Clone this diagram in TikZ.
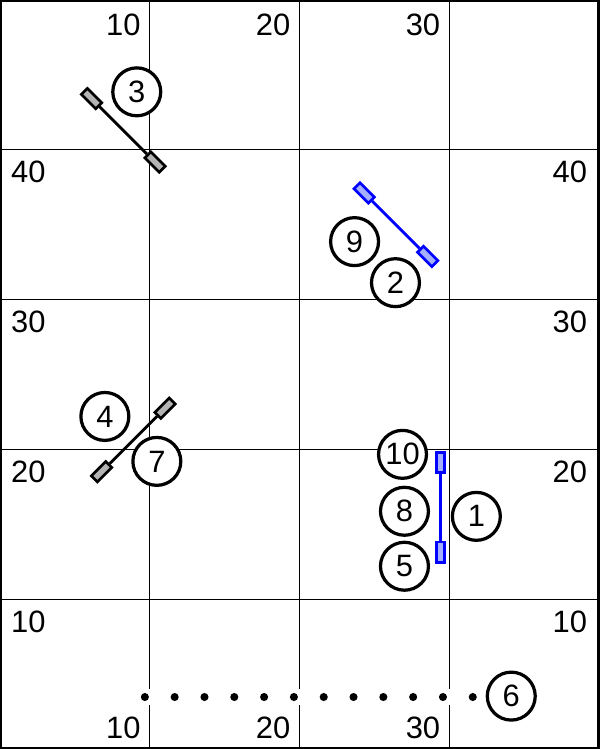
\documentclass[tikz,border=0pt]{standalone}
\usepackage{fontspec}
\setmainfont{Liberation Sans}
\definecolor{gategray}{RGB}{180,180,180}
\definecolor{gateblue}{RGB}{165,175,255}
\tikzset{
  lab/.style={inner sep=0pt, font=\fontsize{22}{26}\selectfont},
  num/.style={circle, draw, line width=2.3pt, fill=white, minimum size=1.2cm, inner sep=0pt, font=\fontsize{22}{26}\selectfont},
  blackgate/.style={rectangle, draw, line width=1.9pt, fill=gategray, minimum width=0.21cm, minimum height=0.51cm, inner sep=0pt},
  bluegate/.style={blackgate, draw=blue, fill=gateblue}
}
\begin{document}
\begin{tikzpicture}[x=0.375cm,y=0.375cm]
\useasboundingbox (0,0) rectangle (40,50);
\foreach \x in {10,20,30} % edit here for the vertical lines
\draw[line width=0.7pt] (\x,0) -- (\x,50);
\foreach \y in {10,20,30,40} % edit here for the horizontal lines
\draw[line width=0.7pt] (0,\y) -- (40,\y);
\draw[line width=2.8pt] (0,0) rectangle (40,50);
\foreach \x in {10,20,30} { % edit here for the numbers on top and bottom
\node[lab, anchor=base east] (top\x) at (\x-0.6,47.6) {\x};
\node[lab, anchor=base east] (bot\x) at (\x-0.6,0.67) {\x};
}
\foreach \y in {10,20,30,40} { % edit here for the numbers left and right
\node[lab, anchor=base west] (left\y) at (0.73,\y-2.2) {\y};
\node[lab, anchor=base east] (right\y) at (39.2,\y-2.2) {\y};
}
%black gates
\node[blackgate, rotate=45] (g3a) at (6.11,43.42) {};
\node[blackgate, rotate=45] (g3b) at (10.35,39.18) {};
\draw[line width=2pt] (g3a) -- (g3b);
\node[blackgate, rotate=-45] (g4a) at (6.78,18.51) {};
\node[blackgate, rotate=-45] (g4b) at (11.02,22.75) {};
\draw[line width=2pt] (g4a) -- (g4b);
%blue gates
\node[bluegate, rotate=45] (g9a) at (24.31,37.12) {};
\node[bluegate, rotate=45] (g9b) at (28.55,32.88) {};
\draw[line width=2pt, blue] (g9a) -- (g9b);
\node[bluegate] (g1a) at (29.4,19.13) {};
\node[bluegate] (g1b) at (29.4,13.13) {};
\draw[line width=2pt, blue] (g1a) -- (g1b);
\foreach \i in {0,...,11} { % edit here for the dots
\fill[white] (9.67+1.99*\i-0.5,2.93) rectangle ++(1.1,1.07);
\fill[black] (9.67+1.99*\i,3.47) circle (0.27);
}
\node[num] (n1) at (31.8,15.53) {1};
\node[num] (n2) at (26.4,31.13) {2};
\node[num] (n3) at (9.13,43.87) {3};
\node[num] (n4) at (7.0,22.2) {4};
\node[num] (n5) at (27,12.2) {5};
\node[num] (n6) at (34.13,3.53) {6};
\node[num] (n7) at (10.47,19.2) {7};
\node[num] (n8) at (27,15.87) {8};
\node[num] (n9) at (23.67,33.87) {9};
\node[num] (n10) at (26.87,19.67) {10};
\end{tikzpicture}
\end{document}
